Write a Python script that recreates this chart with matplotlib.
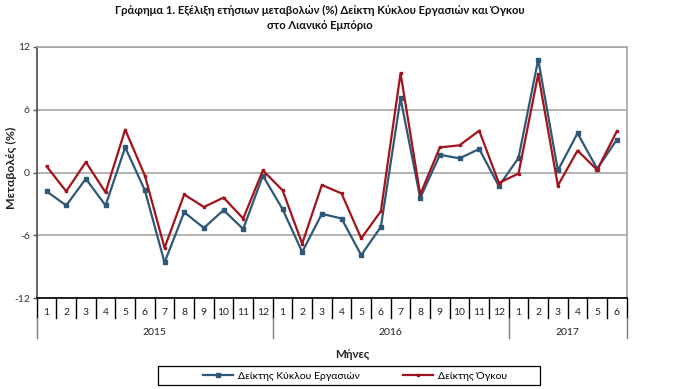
import matplotlib
matplotlib.use("Agg")
import matplotlib.pyplot as plt
from matplotlib.patches import Rectangle
import matplotlib.transforms as mtransforms

plt.rcParams['font.family'] = ['Lato', 'DejaVu Sans']

months = [str(m) for m in range(1, 13)] * 2 + [str(m) for m in range(1, 7)]
years = ["2015", "2016", "2017"]
year_counts = [12, 12, 6]

turnover = [-1.8, -3.15, -0.6, -3.15, 2.4, -1.7, -8.6, -3.8, -5.3, -3.6, -5.4, -0.3,
            -3.5, -7.6, -3.95, -4.4, -7.9, -5.2, 7.1, -2.45, 1.7, 1.35, 2.25, -1.3,
            1.4, 10.8, 0.2, 3.75, 0.35, 3.15]
volume = [0.6, -1.8, 1.0, -1.9, 4.1, -0.3, -7.2, -2.1, -3.3, -2.4, -4.4, 0.2,
          -1.7, -6.8, -1.2, -2.0, -6.3, -3.7, 9.5, -2.1, 2.4, 2.6, 4.0, -1.0,
          -0.1, 9.4, -1.25, 2.1, 0.25, 3.95]

label_turnover = "Δείκτης Κύκλου Εργασιών"
label_volume = "Δείκτης Όγκου"
title = "Γράφημα 1. Εξέλιξη ετήσιων μεταβολών (%) Δείκτη Κύκλου Εργασιών και Όγκου\nστο Λιανικό Εμπόριο"
ylabel = "Μεταβολές (%)"
xlabel = "Μήνες"
yticks = [-12, -6, 0, 6, 12]

blue = "#2F5878"
red = "#A3131C"
grid_c = "#A6A6A6"

W, H = 689, 389
fig = plt.figure(figsize=(W / 100, H / 100), dpi=100)
ax = fig.add_axes([36.7 / W, 1 - 298 / H, 590 / W, 251 / H])

n = len(months)
x = [i + 0.5 for i in range(n)]

ax.plot(x, turnover, color=blue, lw=1.6, marker='s', ms=3.2, mec=blue, mfc=blue,
        label=label_turnover, zorder=3)
ax.plot(x, volume, color=red, lw=1.6, marker='s', ms=1.6, mec=red, mfc=red,
        label=label_volume, zorder=4)

ax.set_xlim(0, n)
ax.set_ylim(-12, 12)
ax.set_yticks(yticks)
ax.set_yticklabels([str(v) for v in yticks], fontsize=7.5, color="#333333")
ax.tick_params(axis='y', length=3, width=1, color="#595959", pad=2)
ax.yaxis.grid(True, color=grid_c, lw=1.2)
ax.set_axisbelow(True)

for s in ['top', 'right']:
    ax.spines[s].set_color(grid_c)
    ax.spines[s].set_linewidth(1.2)
ax.spines['left'].set_color("#595959")
ax.spines['left'].set_linewidth(1.3)
ax.spines['bottom'].set_color("#000000")
ax.spines['bottom'].set_linewidth(1.2)

# x-axis: month labels, separators, year labels
ax.set_xticks([])
trans = mtransforms.blended_transform_factory(ax.transData, ax.transAxes)
for i, m in enumerate(months):
    ax.text(i + 0.5, -0.056, m, transform=trans, ha='center', va='center',
            fontsize=7.5, color="#222222")
year_bounds = [0]
for c in year_counts:
    year_bounds.append(year_bounds[-1] + c)
for b in range(n + 1):
    ax.plot([b, b], [0, -0.08], transform=trans, color="#000000", lw=1.0, clip_on=False)
    if b in year_bounds:
        ax.plot([b, b], [-0.08, -0.16], transform=trans, color="#7F7F7F", lw=1.0, clip_on=False)
for k, y in enumerate(years):
    ax.text((year_bounds[k] + year_bounds[k + 1]) / 2, -0.136, y, transform=trans,
            ha='center', va='center', fontsize=7.5, color="#222222")

fig.text(11 / W, 1 - 168 / H, ylabel, rotation=90, ha='center', va='center',
         fontsize=8.8, fontweight='bold', color="#222222")
fig.text(352 / W, 1 - 355 / H, xlabel, ha='center', va='center',
         fontsize=8.3, fontweight='bold', color="#222222")
fig.text(320 / W, 1 - 18 / H, title, ha='center', va='center', fontsize=8.1,
         fontweight='bold', color="#111111", linespacing=1.4)

# legend
fig.patches.append(Rectangle((158 / W, 1 - 385 / H), 382 / W, 19 / H,
                             transform=fig.transFigure, fill=False,
                             edgecolor="#000000", lw=0.9))
handles, labels = ax.get_legend_handles_labels()
leg = fig.legend(handles, labels, loc='center', bbox_to_anchor=(355 / W, 1 - 376 / H),
                 ncol=2, frameon=False, fontsize=7.5, handlelength=2.9,
                 columnspacing=4.2, handletextpad=0.4, borderpad=0.1)

fig.savefig("out.png", dpi=100, facecolor="white")
